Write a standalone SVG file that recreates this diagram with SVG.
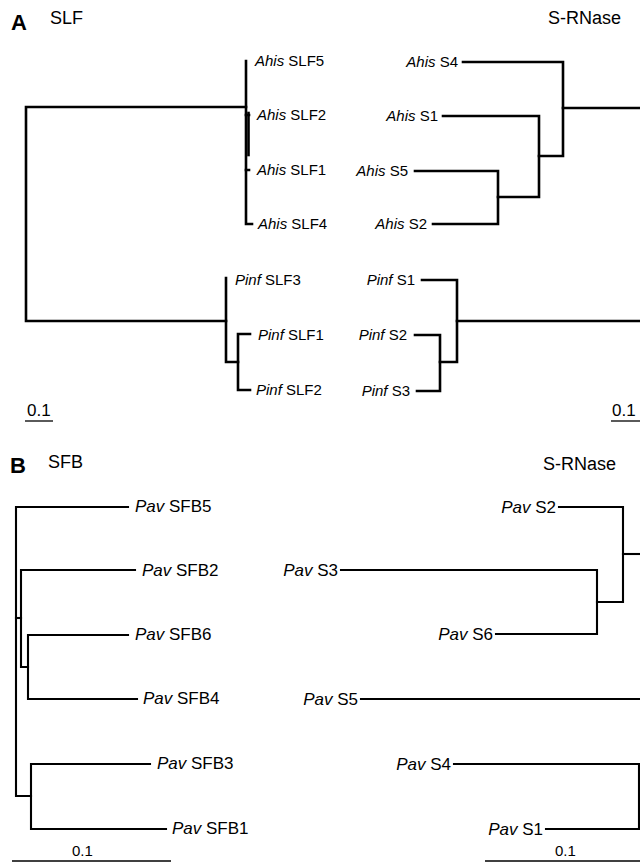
<svg xmlns="http://www.w3.org/2000/svg" width="640" height="863" viewBox="0 0 640 863">
<style>
text{font-family:"Liberation Sans",Arial,sans-serif;fill:#000}
.hd{font-size:18px}
.pl{font-size:22px;font-weight:bold}
.la{font-size:15px}
.lb{font-size:17px}
.sc{font-size:15px}
.sca{font-size:17px}
.i{font-style:italic}
.ea{text-anchor:end}
.ba{fill:none;stroke:#000;stroke-width:2.6;stroke-linecap:square;stroke-linejoin:miter}
.bb{fill:none;stroke:#000;stroke-width:2.1;stroke-linecap:square;stroke-linejoin:miter}
.bar{stroke:#000;stroke-width:1.3}
</style>
<rect width="640" height="863" fill="#fff"/>

<!-- Panel A headers -->
<text class="pl" x="11" y="30">A</text>
<text class="hd" x="50" y="24">SLF</text>
<text class="hd" x="548" y="24">S-RNase</text>

<!-- Panel A SLF leaves -->
<g id="AhisSLF5"><text class="la" x="255" y="66"><tspan class="i">Ahis</tspan> SLF5</text></g>
<g id="AhisSLF2"><text class="la" x="257" y="120"><tspan class="i">Ahis</tspan> SLF2</text></g>
<g id="AhisSLF1"><text class="la" x="257" y="175"><tspan class="i">Ahis</tspan> SLF1</text></g>
<g id="AhisSLF4"><text class="la" x="258" y="229"><tspan class="i">Ahis</tspan> SLF4</text></g>
<g id="PinfSLF3"><text class="la" x="235" y="285"><tspan class="i">Pinf</tspan> SLF3</text></g>
<g id="PinfSLF1"><text class="la" x="258" y="340"><tspan class="i">Pinf</tspan> SLF1</text></g>
<g id="PinfSLF2"><text class="la" x="256" y="395"><tspan class="i">Pinf</tspan> SLF2</text></g>

<!-- Panel A S-RNase leaves -->
<g id="AhisS4"><text class="la ea" x="458" y="67"><tspan class="i">Ahis</tspan> S4</text></g>
<g id="AhisS1"><text class="la ea" x="438" y="121"><tspan class="i">Ahis</tspan> S1</text></g>
<g id="AhisS5"><text class="la ea" x="408" y="176"><tspan class="i">Ahis</tspan> S5</text></g>
<g id="AhisS2"><text class="la ea" x="427" y="229"><tspan class="i">Ahis</tspan> S2</text></g>
<g id="PinfS1"><text class="la ea" x="415" y="285"><tspan class="i">Pinf</tspan> S1</text></g>
<g id="PinfS2"><text class="la ea" x="407" y="340"><tspan class="i">Pinf</tspan> S2</text></g>
<g id="PinfS3"><text class="la ea" x="410" y="396"><tspan class="i">Pinf</tspan> S3</text></g>

<!-- Panel A scale bars -->
<g id="scaleA1"><text class="sca" x="27" y="416">0.1</text><line class="bar" x1="25" y1="421" x2="53" y2="421"/></g>
<g id="scaleA2"><text class="sca" x="612" y="416">0.1</text><line class="bar" x1="611" y1="421" x2="640" y2="421"/></g>

<!-- Panel B headers -->
<text class="pl" x="10" y="473">B</text>
<text class="hd" x="48" y="468">SFB</text>
<text class="hd" x="543" y="470">S-RNase</text>

<!-- Panel B SFB leaves -->
<g id="PavSFB5"><text class="lb" x="135" y="512"><tspan class="i">Pav</tspan> SFB5</text></g>
<g id="PavSFB2"><text class="lb" x="142" y="576"><tspan class="i">Pav</tspan> SFB2</text></g>
<g id="PavSFB6"><text class="lb" x="135" y="640"><tspan class="i">Pav</tspan> SFB6</text></g>
<g id="PavSFB4"><text class="lb" x="143" y="704"><tspan class="i">Pav</tspan> SFB4</text></g>
<g id="PavSFB3"><text class="lb" x="157" y="769"><tspan class="i">Pav</tspan> SFB3</text></g>
<g id="PavSFB1"><text class="lb" x="172" y="834"><tspan class="i">Pav</tspan> SFB1</text></g>

<!-- Panel B S-RNase leaves -->
<g id="PavS2"><text class="lb ea" x="556" y="513"><tspan class="i">Pav</tspan> S2</text></g>
<g id="PavS3"><text class="lb ea" x="338" y="576"><tspan class="i">Pav</tspan> S3</text></g>
<g id="PavS6"><text class="lb ea" x="493" y="640"><tspan class="i">Pav</tspan> S6</text></g>
<g id="PavS5"><text class="lb ea" x="358" y="705"><tspan class="i">Pav</tspan> S5</text></g>
<g id="PavS4"><text class="lb ea" x="451" y="770"><tspan class="i">Pav</tspan> S4</text></g>
<g id="PavS1"><text class="lb ea" x="543" y="835"><tspan class="i">Pav</tspan> S1</text></g>

<!-- Panel B scale bars -->
<g id="scaleB1"><text class="sc" x="72" y="856">0.1</text><line class="bar" x1="12" y1="861" x2="171" y2="861"/></g>
<g id="scaleB2"><text class="sc" x="555" y="856">0.1</text><line class="bar" x1="485" y1="861" x2="640" y2="861"/></g>

<!-- Connectors (tree branches) -->
<g id="connectors">
  <!-- A: SLF tree -->
  <path class="ba" d="M246,107 H26 V321 H226"/>
  <path class="ba" d="M246,61 V224 H252"/>
  <path class="ba" d="M248.5,113 V155"/>
  <path class="ba" d="M246,115 H249 M246,170 H249"/>
  <path class="ba" d="M226,278 V362 H238"/>
  <path class="ba" d="M250,334 H238 V390 H250"/>
  <!-- A: S-RNase tree -->
  <path class="ba" d="M463,62 H563 V156 H539"/>
  <path class="ba" d="M563,108 H641"/>
  <path class="ba" d="M443,116 H539 V197 H498"/>
  <path class="ba" d="M415,171 H498 V224 H433"/>
  <path class="ba" d="M422,280 H457 V362 H440"/>
  <path class="ba" d="M457,321 H641"/>
  <path class="ba" d="M415,335 H440 V391 H417"/>
  <!-- B: SFB tree -->
  <path class="bb" d="M128,507 H16 V796 H31"/>
  <path class="bb" d="M16,618 H21"/>
  <path class="bb" d="M135,570 H21 V667 H28"/>
  <path class="bb" d="M128,635 H28 V699 H137"/>
  <path class="bb" d="M150,764 H31 V829 H166"/>
  <!-- B: S-RNase tree -->
  <path class="bb" d="M559,507 H623 V602 H597"/>
  <path class="bb" d="M623,554 H641"/>
  <path class="bb" d="M341,570 H597 V634 H496"/>
  <path class="bb" d="M361,699 H641"/>
  <path class="bb" d="M454,764 H639 V829 H546"/>
</g>
</svg>
